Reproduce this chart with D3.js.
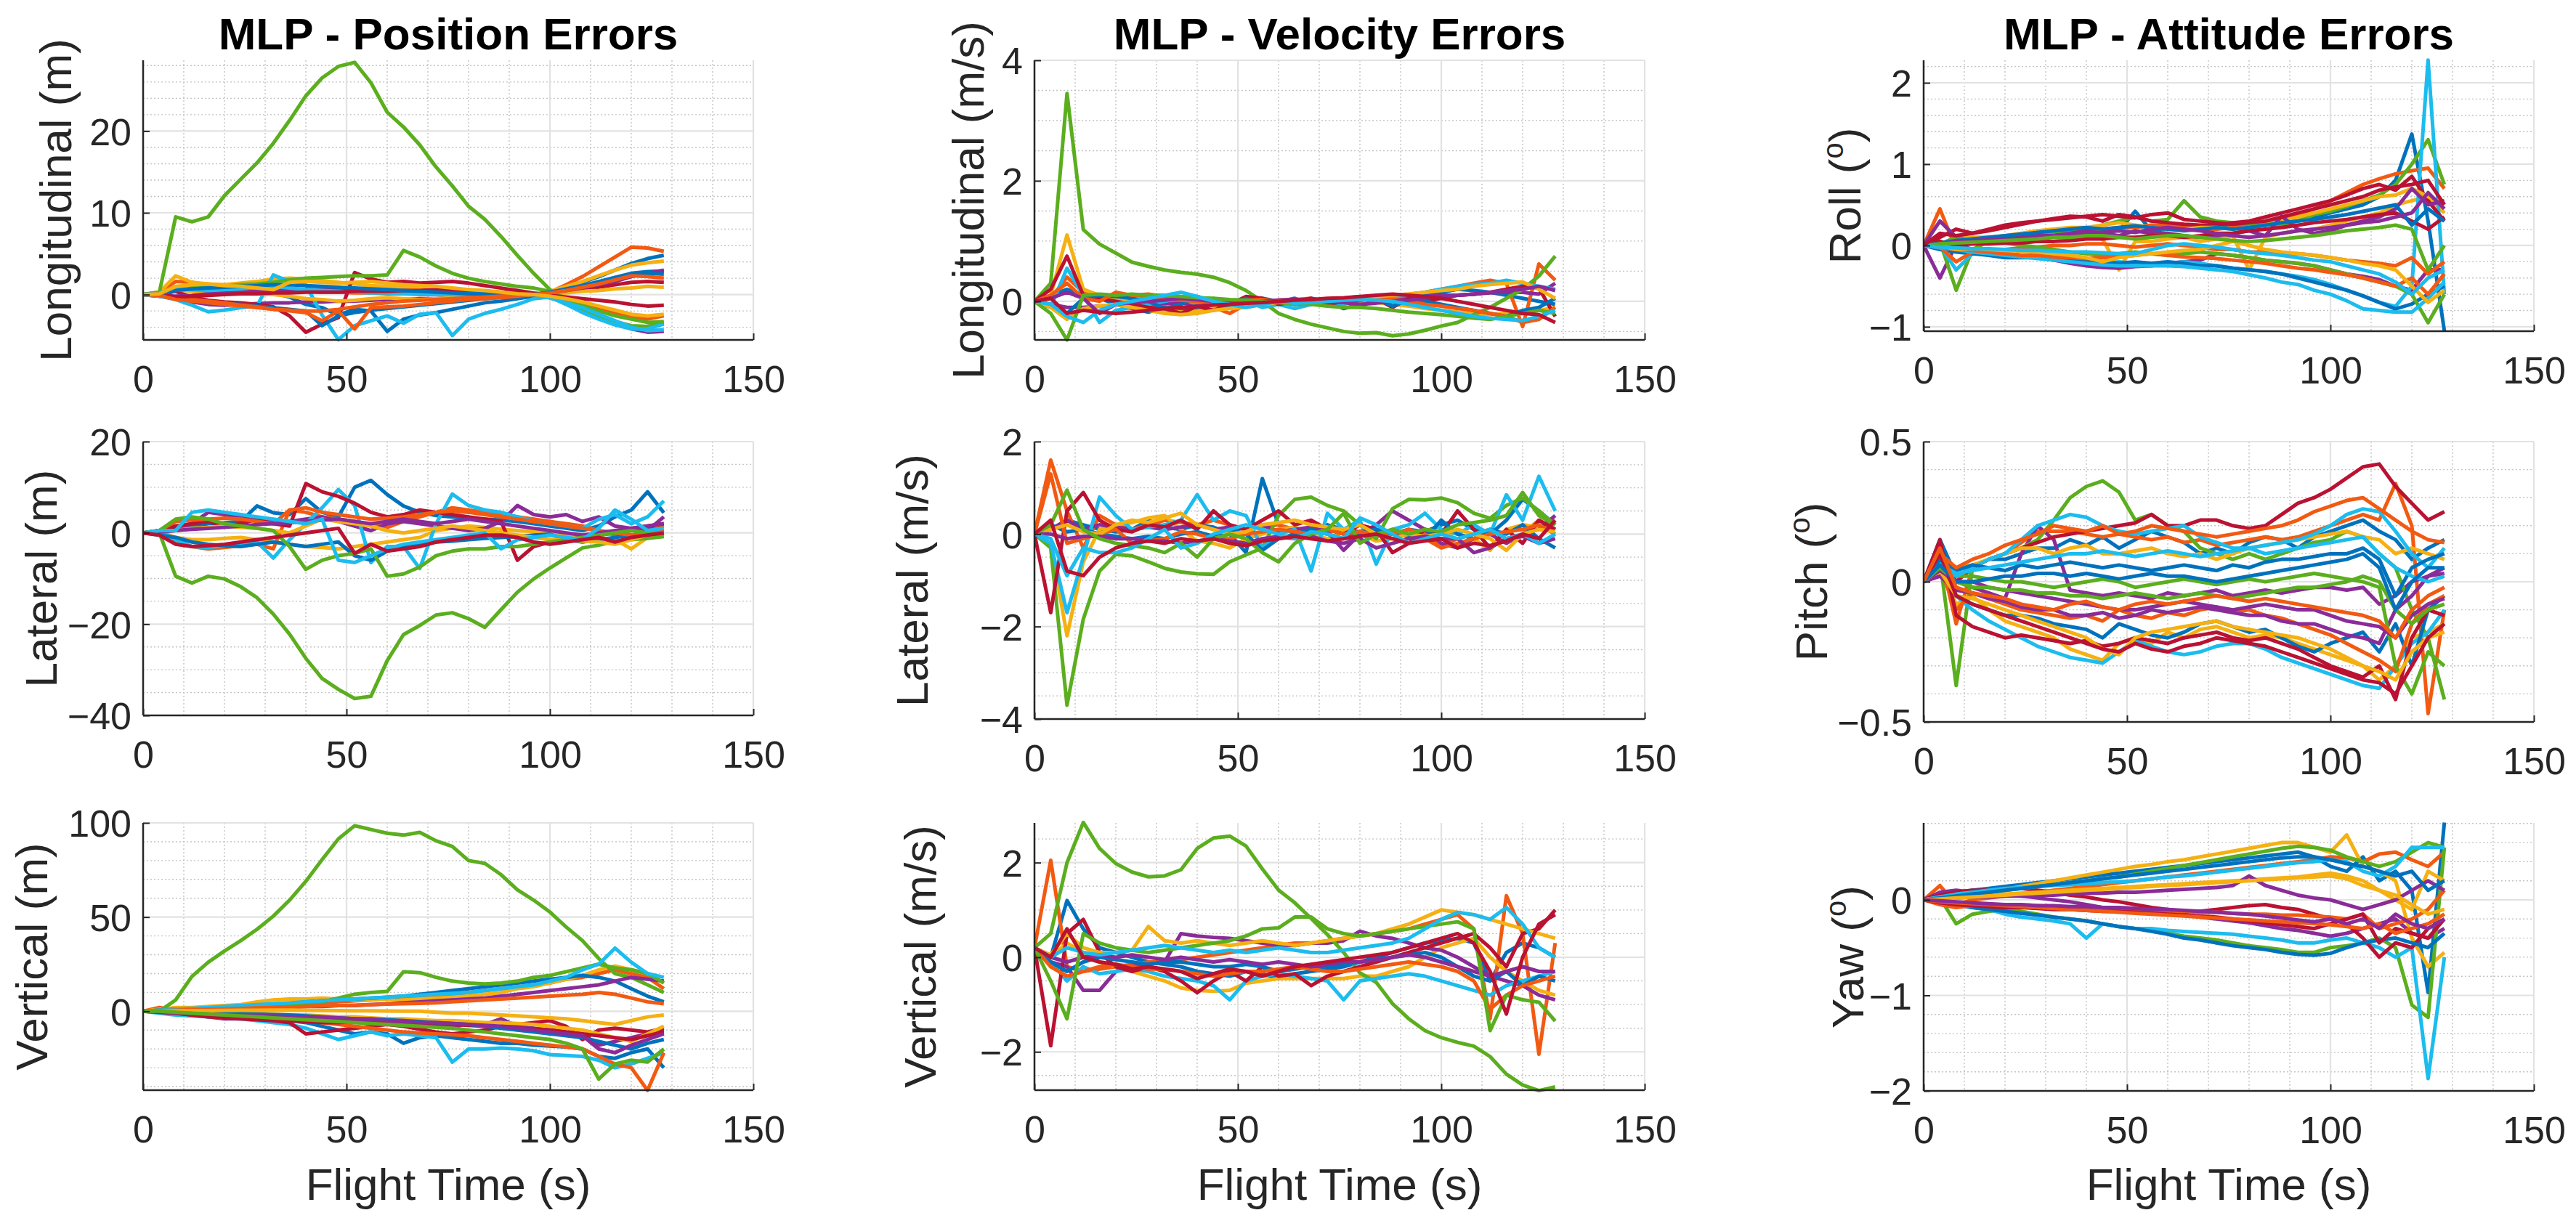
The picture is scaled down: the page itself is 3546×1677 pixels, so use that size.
<!DOCTYPE html>
<html>
  <head>
    <meta charset="utf-8" />
    <script src="https://d3js.org/d3.v7.min.js"></script>
  </head>
  <body>
    <svg id="viz" width="3546" height="1677"></svg>
  </body>
  <script>
    // sample times shared by every run (s)
    const flightTime = [0, 4, 8, 12, 16, 20, 24, 28, 32, 36, 40, 44, 48, 52, 56, 60,
      64, 68, 72, 76, 80, 84, 88, 92, 96, 100, 104, 108, 112, 116, 120, 124, 128];
    const timeTicks = [0, 50, 100, 150];

    // each series is one run; order follows the MATLAB colour order
    const posLongitudinal = [
      [0,-0.2,0.5,1.0,0.9,0.8,0.6,0.4, 0.2,-0.3,-1.2,-1.6,-2.5,-1.8,-2.0,-4.5, -3.0,-2.5,-2.2,-1.8,-1.4,-1.0,-0.8,-0.5, -0.2,0.1,0.8,1.5,2.2,3.0,3.8,4.4, 4.8],
      [0,0.3,1.6,1.5,1.2,1.0,0.8,0.7, 0.6,0.5,0.4,0.3,0.3,0.2,0.2,0.1, 0.1,0.0,0.0,-0.1,-0.1,0.0,0.0,0.0, 0.0,0.3,1.2,2.2,3.4,4.6,5.8,5.7, 5.3],
      [0,0.3,2.3,1.5,1.3,1.2,1.4,1.6, 1.9,2.0,1.9,1.7,1.5,1.3,1.1,1.0, 0.9,0.7,0.5,0.4,0.3,0.2,0.1,0.0, 0.0,0.4,1.0,1.6,2.3,3.0,3.6,3.9, 4.1],
      [0,-0.2,-0.5,-0.9,-1.2,-1.3,-1.2,-1.1, -1.0,-1.0,-0.9,-0.9,-0.8,-0.8,-0.7,-0.6, -0.6,-0.5,-0.5,-0.4,-0.3,-0.3,-0.2,-0.1, 0.0,-0.4,-1.0,-1.8,-2.6,-3.4,-4.2,-4.6, -4.5],
      [0,0.3,9.5,8.9,9.5,12.1,14.1,16.1, 18.5,21.3,24.3,26.5,27.9,28.4,25.9,22.3, 20.5,18.3,15.6,13.3,10.8,9.2,7.1,4.8, 2.6,0.6,-0.9,-2.0,-2.7,-3.3,-3.8,-3.9, -3.4],
      [0,-0.2,-0.6,-1.3,-2.1,-1.9,-1.6,-1.4, 2.4,1.6,1.2,-2.5,-5.5,-3.8,-3.2,-2.6, -3.5,-2.4,-2.2,-5.0,-3.0,-2.3,-1.8,-1.2, -0.5,-0.3,-1.2,-2.2,-3.0,-3.7,-4.2,-4.2, -3.6],
      [0,0.1,0.4,-0.3,-0.7,-0.9,-1.0,-1.2, -1.5,-2.6,-4.6,-3.6,-2.8,2.7,1.9,1.5, 1.6,1.4,1.5,1.6,1.4,1.1,0.8,0.5, 0.2,0.0,0.3,0.6,0.9,1.2,1.5,1.6, 1.5],
      [0,0.1,-0.4,-0.7,-1.0,-1.1,-1.2,-1.4, -1.6,-1.8,-2.0,-3.8,-2.6,-2.2,-1.9,-1.7, -1.5,-1.3,-1.1,-0.9,-0.7,-0.5,-0.3,-0.2, 0.0,0.3,0.7,1.1,1.6,2.1,2.6,2.8, 2.9],
      [0,0.1,-0.3,-0.6,-0.8,-1.0,-1.3,-1.5, -1.8,-2.0,-2.2,-3.2,-2.0,-4.2,-1.6,-1.5, -1.4,-1.2,-1.0,-0.8,-0.6,-0.5,-0.4,-0.2, 0.0,-0.2,-0.6,-1.1,-1.6,-2.2,-2.8,-3.0, -2.6],
      [0,0.0,0.6,0.4,0.3,0.2,0.2,0.1, 0.0,-0.2,-0.5,-0.6,-0.8,-0.7,-0.5,-0.4, -0.5,-0.6,-0.5,-0.4,-0.3,-0.2,-0.1,-0.1, 0.0,0.1,0.2,0.4,0.5,0.7,0.8,1.0, 0.9],
      [0,0.0,-0.2,-0.1,0.1,0.2,0.3,0.4, 0.4,0.5,0.6,0.6,0.7,0.6,0.5,0.4, 0.3,0.2,0.2,0.1,0.6,0.3,0.2,0.1, 0.0,0.2,0.5,0.8,1.2,1.6,2.2,2.6, 3.0],
      [0,0.2,0.6,0.8,0.9,1.0,1.2,1.3, 1.5,1.8,2.0,2.1,2.2,2.3,2.3,2.4, 5.4,4.6,3.5,2.6,2.0,1.6,1.3,1.0, 0.8,0.4,-0.5,-1.3,-2.0,-2.6,-3.0,-3.4, -3.3],
      [0,0.2,0.8,0.6,0.5,0.6,0.7,0.9, 1.0,0.8,0.6,0.5,0.4,0.3,0.2,0.2, 0.1,0.1,0.0,0.0,-0.1,-0.1,-0.1,-0.1, 0.0,-0.4,-1.0,-1.6,-2.4,-3.2,-4.0,-4.4, -4.3],
      [0,0.0,-0.3,-0.2,-0.1,0.0,0.1,0.1, 0.2,0.2,0.3,0.3,0.3,0.4,0.4,0.4, 0.5,0.5,0.6,0.6,0.5,0.4,0.3,0.2, 0.0,-0.1,-0.3,-0.5,-0.7,-0.9,-1.2,-1.4, -1.3],
      [0,0.1,0.5,0.7,0.8,0.9,1.0,1.1, 1.2,1.2,1.1,1.0,0.9,0.8,0.7,0.6, 0.5,0.4,0.3,0.2,0.1,0.1,0.0,0.0, 0.0,0.3,0.6,1.0,1.5,2.0,2.4,2.6, 2.5],
      [0,-0.1,-0.6,-0.8,-1.0,-1.2,-1.4,-1.6, -1.8,-1.9,-2.0,-2.0,-1.8,-1.5,-1.2,-1.0, -0.8,-0.7,-0.6,-0.5,-0.4,-0.3,-0.2,-0.1, 0.0,0.2,0.5,0.9,1.3,1.8,2.3,2.2, 2.0],
      [0,0.1,1.0,1.2,1.3,1.1,1.0,0.8, 0.6,1.5,1.6,1.5,1.4,1.5,1.6,1.4, 1.2,1.1,1.0,0.8,0.6,0.5,0.3,0.1, 0.0,-0.2,-0.5,-0.9,-1.4,-1.9,-2.4,-2.6, -2.4]
    ];

    const velLongitudinal = [
      [0,0.1,0.2,0.1,0.05,-0.05,-0.12,-0.18, -0.1,-0.15,-0.1,-0.12,-0.05,0.0,0.05,0.0, -0.05,0.05,0.0,-0.12,-0.05,0.02,0.05,0.08, 0.1,0.15,0.2,0.18,0.15,0.1,0.05,0.0, -0.05],
      [0,0.05,0.4,0.15,0.1,0.05,0.1,0.12, 0.08,0.05,0.0,-0.1,-0.2,-0.05,0.0,0.02, 0.03,0.05,-0.05,0.05,0.0,0.08,0.1,0.12, 0.15,0.2,0.25,0.3,0.35,0.3,-0.42,0.62, 0.35],
      [0,0.1,1.1,0.2,0.1,0.05,0.0,-0.1, -0.15,-0.18,-0.16,-0.12,-0.08,-0.05,0.0,0.02, 0.03,0.02,0.01,0.0,0.0,-0.02,-0.05,-0.08, -0.12,-0.15,-0.18,-0.2,-0.22,-0.2,-0.18,-0.15, -0.1],
      [0,-0.05,-0.1,-0.1,-0.08,-0.06,-0.05,-0.05, -0.04,-0.03,-0.03,-0.02,-0.02,-0.01,-0.01,0.0, 0.0,0.01,0.02,0.03,0.04,0.05,0.06,0.07, 0.08,0.1,0.1,0.12,0.14,0.15,0.15,0.12, 0.3],
      [0,0.3,3.45,1.19,0.95,0.8,0.65,0.58, 0.52,0.48,0.45,0.4,0.31,0.18,0.0,-0.2, -0.3,-0.38,-0.44,-0.5,-0.53,-0.52,-0.57,-0.54, -0.48,-0.41,-0.35,-0.22,-0.1,0.05,0.2,0.42, 0.75],
      [0,-0.1,0.55,0.1,-0.35,-0.15,-0.1,-0.05, 0.0,0.05,-0.05,0.05,-0.1,0.0,-0.1,-0.05, -0.12,-0.05,0.0,-0.05,0.02,0.05,0.08,0.1, 0.15,0.2,0.25,0.28,0.3,0.35,0.3,0.25, 0.2],
      [0,0.2,0.75,0.1,0.05,0.0,-0.05,-0.1, -0.12,-0.2,-0.08,-0.15,-0.05,0.08,0.05,-0.05, 0.0,0.05,-0.05,0.0,0.02,0.05,-0.1,0.05, 0.0,0.05,0.1,0.12,0.15,0.2,0.25,0.22, -0.25],
      [0,-0.1,-0.2,0.05,0.1,0.08,0.05,0.0, -0.12,-0.05,0.08,0.0,-0.08,0.05,-0.05,0.0, 0.05,-0.05,0.02,0.0,-0.1,0.05,-0.08,0.02, 0.0,-0.05,-0.1,-0.15,-0.2,-0.25,-0.15,-0.1, 0.05],
      [0,0.1,0.3,0.05,0.0,0.15,0.1,0.08, 0.05,0.02,0.0,-0.02,0.0,0.02,0.03,0.0, -0.02,0.0,0.02,0.05,0.08,0.05,0.03,0.0, -0.05,-0.08,-0.12,-0.15,-0.2,-0.25,-0.35,-0.3, -0.1],
      [0,-0.1,-0.3,-0.12,-0.08,-0.05,-0.1,-0.15, -0.2,-0.22,-0.2,-0.15,-0.12,-0.1,-0.05,-0.02, 0.0,0.02,0.03,0.05,0.05,0.08,0.1,0.12, 0.15,0.18,0.2,0.25,0.28,0.3,0.32,0.2, 0.05],
      [0,0.05,0.15,0.05,-0.2,-0.05,-0.02,0.0, 0.02,0.05,0.03,0.0,-0.02,-0.03,0.0,0.02, 0.03,0.02,0.0,-0.02,-0.05,-0.03,0.0,0.02, 0.05,0.08,0.1,0.12,0.15,0.18,0.2,0.25, 0.18],
      [0,-0.2,-0.64,0.1,0.12,0.1,0.12,0.1, 0.1,0.08,0.06,0.05,0.03,0.02,0.0,-0.02, -0.05,-0.05,-0.08,-0.1,-0.1,-0.12,-0.15,-0.18, -0.2,-0.22,-0.25,-0.28,-0.3,-0.25,-0.2,-0.15, -0.2],
      [0,-0.05,-0.25,-0.35,-0.15,-0.05,0.0,0.05, 0.1,0.15,0.08,0.0,-0.05,-0.1,-0.05,0.0, -0.03,-0.02,0.0,0.02,0.03,0.02,0.0,-0.05, -0.1,-0.15,-0.2,-0.25,-0.28,-0.3,-0.32,-0.25, -0.15],
      [0,0.05,-0.2,-0.15,-0.18,-0.2,-0.18,-0.15, -0.12,-0.1,-0.08,-0.06,-0.05,-0.03,-0.02,0.0, 0.02,0.03,0.05,0.06,0.08,0.1,0.12,0.1, 0.08,0.05,0.0,-0.05,-0.1,-0.15,-0.2,-0.22, -0.35]
    ];

    const attRoll = [
      [0,0.02,0.05,0.08,0.1,0.1,0.12,0.15, 0.15,0.12,0.18,0.2,0.18,0.42,0.18,0.2, 0.22,0.22,0.2,0.25,0.22,0.25,0.28,0.3, 0.35,0.4,0.45,0.5,0.6,0.8,1.37,0.3, -1.05],
      [0,0.45,-0.05,0.05,0.05,0.08,0.1,0.12, 0.15,0.15,0.18,0.2,0.22,0.22,0.25,0.25, 0.22,0.2,0.2,0.22,0.25,0.28,0.32,0.38, 0.45,0.55,0.65,0.75,0.82,0.88,0.92,0.95, 0.7],
      [0,0.02,0.05,0.05,0.08,0.1,0.12,0.12, 0.1,0.08,0.1,0.08,-0.3,0.05,0.05,0.08, 0.1,0.05,0.08,0.12,-0.3,0.1,0.15,0.18, 0.2,0.25,0.3,0.35,0.4,0.5,0.55,0.6, 0.4],
      [0,-0.4,0.02,-0.05,-0.08,-0.1,-0.12,-0.15, -0.18,-0.22,-0.25,-0.27,-0.28,-0.26,-0.25,-0.22, -0.2,-0.18,-0.1,-0.12,-0.15,-0.18,-0.2,-0.22, -0.25,-0.3,-0.35,-0.38,-0.42,-0.5,-0.55,-0.3, -0.3],
      [0,0.05,-0.55,-0.05,0.05,0.08,0.1,0.12, 0.15,0.18,0.2,0.25,0.3,0.35,0.3,0.32, 0.55,0.35,0.3,0.28,0.27,0.26,0.25,0.3, 0.38,0.42,0.48,0.55,0.62,0.75,1.0,1.3, 0.75],
      [0,0.0,-0.3,-0.1,-0.08,-0.1,-0.12,-0.15, -0.15,-0.18,-0.2,-0.22,-0.2,-0.22,-0.25,-0.22, -0.2,-0.22,-0.25,-0.28,-0.3,-0.32,-0.35,-0.38, -0.42,-0.48,-0.55,-0.62,-0.7,-0.75,-0.5,2.28, -0.6],
      [0,0.1,0.2,0.15,0.18,0.22,0.26,0.3, 0.33,0.36,0.35,0.3,0.38,0.35,0.3,0.28, 0.26,0.25,0.25,0.28,0.3,0.35,0.4,0.45, 0.5,0.55,0.62,0.7,0.75,0.68,0.85,0.55, 0.3],
      [0,-0.05,-0.08,-0.1,-0.12,-0.15,-0.15,-0.15, -0.18,-0.18,-0.2,-0.2,-0.22,-0.2,-0.22,-0.2, -0.22,-0.25,-0.25,-0.28,-0.3,-0.32,-0.35,-0.4, -0.45,-0.5,-0.55,-0.62,-0.7,-0.78,-0.72,-0.6, -0.5],
      [0,-0.02,-0.2,-0.08,-0.05,-0.05,-0.03,-0.02, 0.0,0.0,0.02,0.02,0.0,-0.02,0.0,0.02, 0.0,-0.02,-0.05,-0.05,-0.08,-0.08,-0.1,-0.1, -0.12,-0.15,-0.18,-0.2,-0.22,-0.25,-0.15,-0.35, -0.2],
      [0,0.02,0.08,0.1,0.1,0.12,0.15,0.18, 0.2,0.22,0.22,0.25,0.28,0.25,0.22,0.2, 0.2,0.22,0.22,0.2,0.22,0.25,0.3,0.35, 0.4,0.45,0.5,0.55,0.6,0.62,0.7,0.6, 0.5],
      [0,0.3,0.1,0.05,0.05,0.08,0.1,0.12, 0.12,0.15,0.18,0.15,0.12,0.18,0.15,0.15, 0.12,0.1,0.12,0.15,0.18,0.12,0.36,0.2, 0.15,0.18,0.25,0.3,0.35,0.45,0.7,0.5, 0.55],
      [0,0.02,0.1,0.05,0.05,0.03,0.0,-0.02, -0.05,-0.08,-0.1,-0.12,-0.1,-0.08,-0.1,-0.12, -0.1,-0.08,-0.1,-0.12,-0.15,-0.18,-0.2,-0.22, -0.25,-0.3,-0.35,-0.4,-0.45,-0.5,-0.6,-0.95, -0.6],
      [0,-0.03,-0.05,-0.08,-0.1,-0.12,-0.14,-0.16, -0.18,-0.2,-0.22,-0.24,-0.25,-0.25,-0.25,-0.25, -0.26,-0.28,-0.3,-0.32,-0.36,-0.4,-0.45,-0.48, -0.55,-0.6,-0.68,-0.78,-0.8,-0.82,-0.82,-0.65, -0.45],
      [0,0.05,0.0,0.02,0.02,0.03,0.03,0.05, 0.05,0.06,0.08,0.08,0.1,0.1,0.12,0.12, 0.1,0.12,0.15,0.15,0.18,0.2,0.22,0.25, 0.28,0.3,0.32,0.35,0.38,0.4,0.3,0.2, 0.35],
      [0,0.03,0.06,0.08,0.1,0.12,0.14,0.16, 0.18,0.2,0.22,0.2,0.22,0.24,0.22,0.2, 0.18,0.2,0.22,0.2,0.22,0.25,0.28,0.3, 0.32,0.35,0.38,0.42,0.46,0.5,0.25,0.45, 0.3],
      [0,-0.02,-0.05,-0.06,-0.08,-0.1,-0.12,-0.12, -0.14,-0.15,-0.16,-0.15,-0.14,-0.12,-0.1,-0.12, -0.14,-0.15,-0.16,-0.18,-0.2,-0.22,-0.25,-0.28, -0.3,-0.33,-0.36,-0.4,-0.45,-0.5,-0.4,-0.6, -0.35],
      [0,0.0,-0.05,-0.04,-0.05,-0.06,-0.07,-0.08, -0.1,-0.12,-0.15,-0.2,-0.15,-0.12,-0.1,-0.08, -0.06,-0.05,0.0,0.05,0.0,-0.05,-0.08,-0.1, -0.12,-0.15,-0.18,-0.22,-0.25,-0.3,-0.5,-0.7, -0.55],
      [0,0.02,0.05,0.06,0.07,0.08,0.09,0.1, 0.12,0.14,0.15,0.16,0.18,0.16,0.2,0.22, 0.2,0.18,0.15,0.12,0.1,0.12,0.15,0.18, 0.2,0.22,0.25,0.28,0.3,0.35,0.4,0.65, 0.45],
      [0,0.02,0.03,0.04,0.05,0.06,0.07,0.08, 0.1,0.1,0.12,0.12,0.1,0.08,0.1,0.12, 0.12,0.1,0.08,0.06,0.05,0.06,0.08,0.1, 0.12,0.15,0.18,0.2,0.22,0.25,0.2,-0.3, 0.0],
      [0,-0.02,-0.03,-0.04,-0.04,-0.05,-0.06,-0.06, -0.07,-0.08,-0.08,-0.09,-0.1,-0.1,-0.05,0.0, 0.02,0.0,-0.02,-0.05,-0.08,-0.1,-0.12,-0.15, -0.18,-0.2,-0.25,-0.3,-0.35,-0.45,-0.6,-0.4, -0.3],
      [0,0.15,0.12,0.15,0.2,0.25,0.28,0.3, 0.32,0.34,0.36,0.38,0.36,0.34,0.38,0.4, 0.32,0.3,0.28,0.26,0.28,0.3,0.35,0.4, 0.45,0.5,0.55,0.6,0.68,0.72,0.75,0.8, 0.5]
    ];

    const posLateral = [
      [0,0.5,0.8,1.5,2.0,2.2,2.5,5.9, 4.4,4.0,7.5,4.5,3.5,10.0,11.5,8.4, 5.9,4.5,3.8,3.5,3.2,3.0,2.8,2.5, 2.0,1.5,1.0,0.5,1.5,3.5,5.0,9.0, 4.4],
      [0,0.5,-2.0,-3.0,-3.5,-3.2,-2.8,-2.5, -3.5,5.0,4.5,3.5,3.0,2.5,1.8,1.2, 2.5,3.5,4.5,5.5,5.0,4.5,4.0,3.5, 3.0,2.5,2.0,1.5,0.5,-0.5,0.5,1.0, 1.5],
      [0,0.2,-1.0,-1.5,-1.5,-1.2,-1.0,-1.5, -2.0,-2.5,-3.0,-3.2,-3.5,-3.0,-2.5,-2.0, -1.5,-1.0,0.5,1.0,1.5,1.2,0.8,0.5, 0.3,0.0,-0.5,-0.8,-1.0,-1.5,-3.5,-1.0, 0.0],
      [0,0.2,0.5,2.0,4.5,4.0,3.5,3.0, 2.5,2.5,3.0,3.5,2.5,1.5,0.5,2.0, 2.5,2.0,1.5,1.0,0.5,1.0,2.5,6.0, 4.0,3.5,4.0,2.5,3.5,1.5,1.0,0.5, 3.5],
      [0,0.0,-9.5,-11.0,-9.5,-10.1,-11.8,-14.2, -17.8,-22.2,-27.5,-31.9,-34.3,-36.3,-35.8,-28.0, -22.3,-20.3,-18.0,-17.5,-18.8,-20.7,-16.8,-13.0, -10.1,-7.7,-5.5,-3.3,-2.7,-1.8,-1.5,-1.2, -0.8],
      [0,0.5,-1.5,-3.0,-3.2,-2.8,-2.5,-2.0, -5.5,-1.5,2.0,5.5,9.5,6.0,-6.5,-3.0, -3.0,-7.8,2.0,8.5,6.0,5.0,4.5,3.5, 2.5,2.0,1.5,1.0,3.0,4.0,2.0,3.5, 7.0],
      [0,0.5,1.5,2.0,2.5,1.5,2.0,3.0, 2.0,1.5,10.8,9.0,8.0,6.5,4.5,3.5, 4.0,5.0,4.5,4.0,3.5,3.0,2.5,-6.0, -3.0,-2.0,-1.5,-1.0,-0.5,0.0,1.0,1.5, 2.0],
      [0,-0.5,-1.0,-2.0,-2.5,-2.8,-3.0,-2.5, -2.0,-2.5,-3.0,-2.5,-2.0,-5.0,-6.0,-4.0, -3.0,-2.5,-2.0,-1.8,-1.5,-1.2,-1.0,-0.8, -0.5,-0.3,-1.5,-2.0,-1.5,-1.0,-0.5,0.0, 0.5],
      [0,0.5,2.5,2.8,3.0,3.2,3.0,2.5, 2.0,5.0,5.5,4.5,4.0,3.5,3.0,3.2, 3.5,4.0,4.5,4.8,4.5,4.0,3.5,3.0, 2.5,2.0,1.5,1.0,0.5,0.0,-0.5,0.0, 0.5],
      [0,0.3,0.5,1.0,1.2,1.5,1.2,1.0, 0.5,0.0,1.5,3.0,2.5,2.0,1.5,0.5, 0.0,0.5,1.0,1.5,1.0,0.5,0.0,-0.5, -1.0,-1.5,-1.5,-1.8,-2.0,-2.5,-1.5,-0.5, 0.0],
      [0,0.2,0.5,0.8,1.0,1.2,1.5,1.8, 2.0,2.2,2.5,2.8,3.0,2.5,2.0,2.5, 3.0,2.5,2.0,2.5,3.0,2.5,2.0,1.5, 1.0,0.5,0.0,-0.5,0.0,0.5,1.0,1.5, 2.0],
      [0,0.5,3.0,3.5,3.0,2.0,1.5,1.0, 0.5,-3.0,-8.0,-6.0,-5.0,-4.5,-3.5,-9.5, -9.0,-7.5,-5.0,-4.0,-3.5,-3.5,-3.0,-3.0, -2.5,-2.0,-1.5,-1.0,-0.5,0.0,0.5,0.0, -0.5],
      [0,0.5,0.5,4.5,5.0,4.5,4.0,3.5, 3.0,2.5,2.0,3.0,-6.0,-6.5,-5.0,-3.5, -2.5,-2.0,-1.5,-1.0,-0.5,0.0,-3.5,-1.5, -1.0,-0.5,-1.0,-1.5,1.0,5.0,3.0,0.5, 1.0],
      [0,-0.5,-2.5,-3.0,-2.8,-2.5,-2.0,-1.5, -1.0,-0.5,0.0,0.5,1.0,-4.5,-2.5,-4.0, -3.5,-3.0,-2.0,-1.5,-1.0,-0.5,-0.5,-1.0, -2.0,-2.5,-2.0,-1.5,-1.0,-2.0,-1.0,-0.5, 0.0]
    ];

    const velLateral = [
      [0,0.1,0.3,0.2,0.1,0.05,0.1,0.3, 0.15,0.1,0.2,0.15,0.0,-0.4,1.2,0.2, 0.0,-0.1,0.2,0.1,0.05,0.1,0.0,0.1, 0.05,0.2,0.3,0.1,0.0,0.3,0.75,0.5, 0.2],
      [0,1.6,0.5,-0.3,0.4,0.2,0.1,0.2, 0.3,0.25,0.2,0.3,0.2,0.1,0.15,0.2, 0.1,0.0,0.05,0.1,0.0,-0.05,0.0,0.1, 0.0,-0.25,-0.1,0.0,0.1,-0.1,0.0,0.3, 0.1],
      [0,-0.2,-2.2,-0.6,0.1,0.2,0.25,0.35, 0.4,0.1,-0.15,-0.2,-0.3,-0.1,0.0,0.1, 0.15,0.0,-0.1,0.05,0.0,-0.15,-0.1,0.0, 0.1,0.05,0.0,-0.1,-0.35,0.1,0.2,0.15, 0.1],
      [0,0.1,0.3,0.1,0.2,0.15,0.1,0.15, 0.1,0.15,0.2,0.1,0.15,0.1,0.2,0.05, 0.1,0.15,0.05,-0.35,0.0,0.2,0.5,0.3, 0.1,-0.2,-0.3,-0.1,0.0,-0.2,0.0,0.1, 0.4],
      [0,-0.3,-3.7,-1.84,-0.8,-0.44,-0.47,-0.6, -0.74,-0.82,-0.86,-0.87,-0.6,-0.45,-0.3,0.4, 0.75,0.8,0.62,0.5,0.2,-0.1,0.55,0.75, 0.74,0.78,0.68,0.45,0.34,0.62,0.78,0.5, 0.2],
      [0,-0.2,-1.7,-0.5,0.8,0.4,0.1,0.15, 0.2,0.3,0.85,0.3,0.5,0.4,-0.3,0.0, 0.1,-0.8,0.45,0.1,0.3,-0.65,0.1,0.2, 0.45,0.1,0.0,0.2,0.0,0.85,0.3,1.25, 0.5],
      [0,-1.7,0.5,0.9,0.3,0.1,0.05,0.2, 0.15,0.3,0.1,0.5,0.2,0.1,0.3,0.5, 0.2,0.3,0.1,0.0,0.2,0.1,-0.4,-0.2, 0.1,0.0,0.5,0.1,-0.3,0.1,-0.2,0.3, 0.1],
      [0,0.2,0.05,0.1,0.0,-0.05,-0.1,-0.05, -0.1,0.0,0.05,-0.05,0.1,0.0,-0.35,-0.1, 0.0,0.1,0.0,-0.1,0.05,0.1,0.0,-0.05, -0.1,0.3,0.0,-0.1,0.1,0.0,0.2,-0.1, -0.3],
      [0,1.3,-0.2,-0.1,0.0,0.1,-0.2,-0.15, -0.1,0.05,0.0,-0.1,-0.1,0.0,0.05,0.1, 0.05,0.0,0.1,0.0,0.05,0.0,0.05,0.0, -0.1,-0.3,-0.2,-0.1,0.0,0.05,0.1,0.2, 0.0],
      [0,0.1,0.2,0.05,0.0,0.2,0.3,0.25, 0.35,0.45,0.2,0.1,0.0,0.05,0.2,0.25, 0.3,0.2,0.15,0.1,0.2,0.0,-0.1,0.0, -0.05,0.0,0.1,0.0,-0.1,-0.35,0.0,0.1, 0.05],
      [0,0.0,-0.1,-0.05,-0.05,-0.1,-0.1,-0.15, -0.15,-0.2,-0.15,-0.1,-0.15,-0.2,-0.1,-0.05, -0.1,-0.05,-0.15,-0.2,-0.1,-0.3,-0.2,-0.1, -0.05,-0.1,-0.1,-0.4,-0.3,-0.1,-0.05,-0.2, -0.1],
      [0,0.2,0.95,0.1,-0.1,-0.2,-0.25,-0.3, -0.4,-0.2,-0.5,-0.1,0.0,-0.1,-0.4,-0.6, -0.2,0.0,0.1,0.45,-0.2,0.0,0.1,0.0, 0.1,0.05,0.2,0.25,0.3,0.4,0.9,0.4, 0.2],
      [0,-0.1,-0.9,-0.3,-0.4,-0.4,-0.3,-0.1, 0.1,-0.3,-0.2,0.0,0.1,0.2,0.1,0.0, -0.1,0.05,0.0,-0.1,0.35,0.2,0.0,-0.2, -0.1,0.0,-0.1,0.0,0.1,-0.1,0.0,-0.2, 0.0],
      [0,0.3,-0.8,-0.9,-0.5,-0.3,-0.2,-0.15, -0.2,-0.1,-0.15,-0.1,-0.2,-0.25,-0.15,-0.1, -0.05,-0.1,-0.15,-0.1,-0.05,0.0,-0.1,-0.2, -0.15,-0.1,-0.3,-0.2,-0.25,-0.15,0.0,-0.1, 0.3]
    ];

    const attPitch = [
      [0,0.15,0.02,0.05,0.08,0.08,0.1,0.12, 0.12,0.15,0.13,0.16,0.12,0.15,0.18,0.16, 0.14,0.1,0.12,0.1,0.14,0.16,0.15,0.12, 0.16,0.18,0.2,0.22,0.18,0.15,0.08,0.12, 0.15],
      [0,0.1,-0.15,0.05,0.08,0.1,0.14,0.18, 0.18,0.18,0.17,0.16,0.17,0.16,0.15,0.16, 0.14,0.15,0.13,0.14,0.15,0.16,0.15,0.16, 0.18,0.2,0.22,0.24,0.22,0.35,0.2,-0.47, -0.1],
      [0,0.05,-0.08,-0.05,-0.1,-0.14,-0.16,-0.18, -0.2,-0.24,-0.26,-0.28,-0.22,-0.2,-0.22,-0.18, -0.2,-0.17,-0.16,-0.18,-0.2,-0.19,-0.2,-0.22, -0.24,-0.26,-0.28,-0.3,-0.35,-0.3,-0.2,-0.18, -0.15],
      [0,0.05,0.0,-0.02,-0.04,-0.06,0.1,0.2, 0.15,-0.03,-0.04,-0.05,-0.04,-0.05,-0.06,-0.04, -0.05,-0.04,-0.03,-0.05,-0.04,-0.03,-0.04,-0.03, -0.02,-0.02,-0.03,-0.02,-0.08,-0.05,0.0,0.02, 0.03],
      [0,0.08,-0.37,0.05,0.08,0.1,0.12,0.15, 0.22,0.3,0.34,0.36,0.32,0.22,0.24,0.2, 0.18,0.12,0.1,0.08,0.1,0.08,0.1,0.12, 0.14,0.15,0.18,0.16,0.1,0.05,-0.1,-0.2, -0.42],
      [0,0.08,-0.05,-0.1,-0.14,-0.17,-0.2,-0.23, -0.25,-0.27,-0.28,-0.29,-0.25,-0.21,-0.23,-0.25, -0.26,-0.25,-0.23,-0.22,-0.22,-0.24,-0.27,-0.29, -0.31,-0.33,-0.35,-0.37,-0.38,-0.3,-0.22,-0.18, -0.1],
      [0,0.12,0.0,0.05,0.08,0.1,0.12,0.14, 0.16,0.17,0.18,0.19,0.2,0.21,0.24,0.2, 0.2,0.22,0.22,0.2,0.19,0.2,0.24,0.28, 0.3,0.33,0.37,0.41,0.42,0.34,0.28,0.22, 0.25],
      [0,0.1,-0.05,-0.08,-0.1,-0.12,-0.12,-0.13, -0.15,-0.16,-0.17,-0.2,-0.15,-0.17,-0.19,-0.2, -0.18,-0.15,-0.14,-0.16,-0.18,-0.17,-0.2,-0.23, -0.25,-0.22,-0.2,-0.18,-0.25,-0.15,-0.3,-0.1, -0.05],
      [0,0.05,-0.1,-0.04,-0.06,-0.08,-0.1,-0.11, -0.12,-0.13,-0.12,-0.14,-0.1,-0.12,-0.13,-0.11, -0.12,-0.1,-0.09,-0.11,-0.1,-0.12,-0.13,-0.15, -0.17,-0.19,-0.22,-0.25,-0.28,-0.32,-0.15,-0.08, -0.05],
      [0,0.03,0.05,0.06,0.08,0.1,0.12,0.12, 0.1,0.12,0.13,0.1,0.1,0.11,0.12,0.1, 0.09,0.1,0.08,0.1,0.12,0.13,0.14,0.15, 0.16,0.17,0.18,0.16,0.15,0.1,0.12,0.1, 0.08],
      [0,0.02,-0.03,-0.04,-0.06,-0.07,-0.09,-0.1, -0.1,-0.12,-0.12,-0.11,-0.13,-0.12,-0.1,-0.11, -0.1,-0.09,-0.1,-0.11,-0.12,-0.12,-0.14,-0.15, -0.15,-0.17,-0.19,-0.2,-0.22,-0.1,-0.05,0.02, 0.05],
      [0,0.06,0.02,0.02,0.01,0.0,0.0,-0.01, -0.02,-0.01,0.0,0.01,0.0,-0.02,-0.01,0.0, 0.01,0.0,-0.01,0.0,0.01,0.0,0.01,0.02, 0.03,0.02,0.01,0.0,-0.02,-0.3,-0.4,-0.25, -0.3],
      [0,0.05,0.02,0.05,0.08,0.1,0.15,0.2, 0.22,0.24,0.23,0.2,0.18,0.17,0.18,0.19, 0.2,0.16,0.14,0.12,0.12,0.13,0.14,0.15, 0.17,0.2,0.24,0.26,0.25,0.18,0.1,0.05, 0.12],
      [0,0.15,-0.12,-0.16,-0.18,-0.2,-0.19,-0.2, -0.21,-0.22,-0.21,-0.23,-0.22,-0.2,-0.21,-0.22, -0.2,-0.19,-0.18,-0.2,-0.21,-0.2,-0.22,-0.24, -0.27,-0.3,-0.32,-0.34,-0.3,-0.42,-0.2,-0.1, -0.12],
      [0,0.08,0.04,0.06,0.05,0.04,0.06,0.05, 0.06,0.07,0.06,0.05,0.06,0.05,0.04,0.05, 0.06,0.05,0.04,0.06,0.05,0.07,0.08,0.08, 0.09,0.1,0.1,0.12,0.08,-0.05,0.05,0.08, 0.1],
      [0,0.1,0.05,0.08,0.1,0.13,0.15,0.17, 0.2,0.19,0.18,0.2,0.17,0.18,0.2,0.19, 0.18,0.17,0.16,0.17,0.18,0.19,0.2,0.22, 0.25,0.27,0.29,0.3,0.26,0.22,0.18,0.15, 0.14],
      [0,0.04,-0.05,-0.06,-0.08,-0.1,-0.12,-0.14, -0.16,-0.18,-0.2,-0.24,-0.26,-0.2,-0.18,-0.17, -0.16,-0.15,-0.14,-0.16,-0.17,-0.18,-0.19,-0.2, -0.22,-0.24,-0.27,-0.3,-0.32,-0.35,-0.25,-0.2, -0.18],
      [0,0.04,0.0,0.0,-0.02,-0.03,-0.04,-0.05, -0.06,-0.07,-0.08,-0.09,-0.1,-0.1,-0.09,-0.08, -0.07,-0.08,-0.09,-0.1,-0.09,-0.08,-0.09,-0.1, -0.1,-0.12,-0.14,-0.15,-0.16,-0.2,-0.12,-0.08, -0.06],
      [0,0.05,0.0,-0.02,-0.02,-0.03,-0.03,-0.04, -0.04,-0.05,-0.05,-0.06,-0.05,-0.04,-0.05,-0.06, -0.05,-0.04,-0.05,-0.06,-0.05,-0.04,-0.03,-0.02, -0.02,-0.01,0.0,0.02,0.0,-0.1,-0.15,-0.1, -0.08],
      [0,0.06,0.03,0.04,0.05,0.06,0.07,0.08, 0.09,0.1,0.1,0.11,0.1,0.09,0.1,0.11, 0.1,0.09,0.1,0.11,0.12,0.1,0.11,0.12, 0.13,0.14,0.15,0.16,0.1,0.05,0.02,0.0, 0.02],
      [0,0.1,-0.05,-0.08,-0.1,-0.12,-0.14,-0.16, -0.18,-0.2,-0.22,-0.24,-0.25,-0.22,-0.24,-0.25, -0.23,-0.22,-0.2,-0.21,-0.22,-0.23,-0.25,-0.27, -0.29,-0.31,-0.33,-0.35,-0.36,-0.4,-0.3,-0.2, -0.15],
      [0,0.06,0.0,0.0,0.01,0.02,0.02,0.03, 0.03,0.02,0.03,0.02,0.01,0.02,0.03,0.02, 0.02,0.01,0.0,0.01,0.02,0.03,0.04,0.05, 0.06,0.07,0.08,0.1,0.05,-0.1,0.0,0.05, 0.05],
      [0,0.12,-0.02,-0.04,-0.05,-0.06,-0.08,-0.09, -0.1,-0.08,-0.07,-0.09,-0.1,-0.08,-0.07,-0.08, -0.07,-0.06,-0.05,-0.06,-0.07,-0.06,-0.07,-0.08, -0.09,-0.1,-0.11,-0.12,-0.14,-0.2,-0.1,-0.05, -0.02]
    ];

    const posVertical = [
      [0,0.0,-1.0,-1.5,-2.0,-2.5,-3.0,-3.5, -4.0,-5.0,-6.0,-8.0,-10.0,-12.0,-11.0,-12.0, -17.0,-14.0,-13.0,-14.0,-15.0,-16.0,-17.0,-17.0, -18.0,-18.5,-19.0,-20.0,-24.0,-25.0,-22.0,-20.0, -30.0],
      [0,2.0,0.5,0.5,1.0,1.5,2.0,2.5, 3.0,3.5,4.0,4.5,5.0,5.5,6.0,7.0, 7.5,8.0,8.5,9.0,10.0,11.0,12.0,13.0, 14.0,15.0,17.0,18.0,20.0,22.0,20.0,18.0, 12.0],
      [0,1.0,2.0,2.0,2.5,3.0,3.5,5.0, 6.0,6.5,6.5,7.0,6.5,6.0,6.0,6.5, 6.0,6.5,7.0,7.5,8.0,9.0,10.0,12.0, 13.0,15.0,17.0,19.0,22.0,24.0,22.0,20.0, 15.0],
      [0,-0.5,-1.5,-2.0,-3.0,-4.0,-4.0,-3.5, -3.5,-4.0,-4.5,-5.0,-5.0,-5.5,-6.0,-6.5, -7.0,-6.0,-8.0,-9.0,-6.0,-7.0,-4.0,-8.0, -9.0,-10.0,-11.0,-12.0,-18.0,-16.0,-14.0,-12.0, -10.0],
      [0,0.0,6.0,18.5,26.0,32.0,37.5,43.5, 50.5,59.0,69.0,80.5,91.5,98.5,96.5,94.5, 93.5,95.0,90.5,87.5,80.0,78.5,72.5,64.5, 59.0,52.7,44.7,37.5,28.0,20.0,18.0,14.0, 10.0],
      [0,-1.0,-2.0,-2.5,-3.0,-3.5,-4.0,-5.0, -6.0,-7.0,-9.0,-12.0,-15.0,-13.0,-11.0,-13.0, -12.0,-13.0,-14.0,-27.0,-20.0,-20.0,-19.5,-20.0, -21.0,-23.0,-23.5,-24.0,-26.0,-30.0,-28.0,-25.0, -22.0],
      [0,-0.5,-1.0,-2.0,-3.0,-3.5,-4.0,-4.5, -5.0,-6.0,-12.0,-11.0,-10.0,-9.0,-8.0,-7.0, -8.0,-9.5,-11.0,-12.0,-11.0,-10.0,-8.0,-7.0, -6.0,-5.0,-8.0,-15.0,-10.0,-9.0,-10.0,-11.0, -9.0],
      [0,0.5,0.8,1.0,1.5,2.0,2.5,3.0, 3.5,4.0,5.0,5.5,6.0,6.5,7.0,7.5, 8.0,9.0,10.0,11.0,12.0,13.0,14.0,15.0, 16.0,17.0,18.0,19.0,18.0,16.0,12.0,8.0, 5.0],
      [0,0.0,-0.5,-1.0,-1.5,-2.0,-2.5,-3.0, -3.5,-4.0,-5.0,-6.0,-7.0,-8.0,-9.0,-10.0, -11.0,-11.5,-12.0,-12.5,-13.0,-14.0,-15.0,-16.0, -17.0,-18.0,-19.0,-20.0,-24.0,-28.0,-30.0,-42.0, -22.0],
      [0,0.5,0.5,0.0,-0.5,-0.5,-1.0,-1.0, -1.5,-2.0,-2.0,-2.5,-3.0,-3.0,-3.5,-4.0, -4.0,-4.5,-5.0,-5.0,-5.5,-6.0,-6.0,-6.5, -7.0,-8.0,-9.0,-10.0,-12.0,-14.0,-16.0,-12.0, -8.0],
      [0,0.5,1.0,1.0,1.0,1.0,1.5,1.5, 2.0,2.0,2.5,2.5,3.0,3.0,3.5,4.0, 4.5,5.0,5.5,6.0,6.5,7.0,8.0,9.0, 10.0,11.0,12.0,13.0,14.0,16.0,18.0,17.0, 16.0],
      [0,0.5,1.0,1.5,1.5,2.0,2.0,2.5, 3.0,3.5,4.5,5.0,7.0,9.0,10.0,10.5, 21.0,20.5,18.0,16.0,15.0,14.5,15.0,16.0, 18.0,19.0,21.0,23.0,25.0,23.0,22.0,20.0, 15.0],
      [0,0.5,1.0,1.5,2.0,2.5,3.0,3.5, 4.0,4.5,5.0,5.5,6.0,6.5,7.0,7.5, 8.0,8.5,9.0,9.5,10.0,11.0,12.0,13.0, 14.0,16.0,18.0,22.0,25.0,33.5,26.0,20.0, 18.0],
      [0,0.0,-1.0,-2.0,-2.5,-3.0,-3.5,-4.0, -4.5,-5.0,-5.5,-6.0,-6.0,-5.5,-5.0,-5.5, -6.0,-6.5,-7.0,-7.0,-7.5,-8.0,-8.5,-9.0, -9.5,-10.0,-11.0,-12.0,-13.0,-14.0,-15.0,-13.0, -11.0],
      [0,0.0,-0.3,-0.5,-0.8,-1.0,-1.2,-1.5, -1.8,-2.0,-2.5,-3.0,-3.5,-4.0,-4.0,-4.5, -5.0,-5.5,-6.0,-6.5,-7.0,-8.0,-9.0,-10.0, -11.0,-12.0,-13.0,-14.0,-16.0,-18.0,-20.0,-17.0, -15.0],
      [0,0.3,0.5,0.8,1.0,1.2,1.5,1.8, 2.0,2.2,2.5,2.8,3.0,3.2,3.5,3.8, 4.0,4.2,4.5,5.0,5.5,6.0,6.5,7.0, 7.5,8.0,8.5,9.0,10.0,9.0,7.0,5.0, 4.0],
      [0,0.0,0.2,0.3,0.3,0.4,0.5,0.5, 0.6,0.6,0.5,0.4,0.3,0.2,0.2,0.1, 0.0,0.0,-0.5,-1.0,-1.0,-1.5,-2.0,-2.5, -3.0,-3.5,-4.0,-5.0,-6.0,-7.0,-5.0,-3.0, -2.0],
      [0,-0.3,-0.8,-1.2,-1.5,-2.0,-2.5,-2.5, -2.5,-3.0,-3.0,-3.5,-3.5,-4.0,-4.5,-5.0, -5.5,-6.0,-6.0,-6.5,-7.0,-7.5,-8.0,-9.0, -10.0,-11.0,-12.0,-13.0,-20.0,-22.0,-18.0,-15.0, -12.0],
      [0,0.0,-0.5,-1.0,-1.5,-2.0,-2.5,-3.0, -3.5,-4.0,-4.5,-5.0,-5.5,-6.0,-6.5,-7.0, -7.5,-8.0,-8.5,-9.0,-10.0,-11.0,-12.0,-13.0, -14.0,-15.0,-17.0,-20.0,-36.0,-28.0,-26.0,-27.0, -20.0]
    ];

    const velVertical = [
      [0.2,0.0,1.2,0.6,0.2,0.1,0.0,-0.1, -0.15,-0.2,-0.3,-0.35,-0.4,-0.3,-0.35,-0.45, -0.35,-0.3,-0.25,-0.2,-0.1,0.0,0.1,0.2, 0.3,0.35,0.4,0.3,-0.5,0.1,0.3,0.2, 0.0],
      [0.2,2.05,-0.2,-0.3,-0.25,-0.2,-0.15,-0.1, -0.1,-0.05,0.0,0.05,0.1,0.15,0.2,0.25, 0.3,0.3,0.35,0.4,0.45,0.5,0.55,0.6, 0.7,0.8,0.9,0.6,-1.3,1.3,0.5,-2.05, 0.3],
      [0.2,0.0,0.3,0.1,-0.1,-0.2,-0.3,-0.4, -0.5,-0.65,-0.7,-0.72,-0.7,-0.55,-0.5,-0.45, -0.45,-0.45,-0.45,-0.45,-0.4,-0.4,-0.3,-0.2, 0.0,0.2,0.3,0.4,0.0,-0.3,-0.5,-0.7, -0.8],
      [0.2,-0.1,-0.2,-0.7,-0.7,-0.3,-0.2,-0.15, -0.1,0.5,0.45,0.42,0.4,0.35,0.3,0.25, 0.25,0.3,0.3,0.35,0.55,0.45,0.4,0.3, 0.2,0.15,0.0,-0.2,-0.4,-0.5,-0.6,-0.8, -0.9],
      [0.2,0.5,2.0,2.85,2.3,1.98,1.8,1.7, 1.72,1.85,2.3,2.52,2.56,2.35,1.87,1.42, 1.15,0.82,0.48,0.1,-0.33,-0.53,-0.98,-1.3, -1.55,-1.7,-1.8,-1.88,-2.1,-2.47,-2.7,-2.82, -2.74],
      [0.2,-0.1,-0.5,-0.2,-0.35,-0.3,-0.25,-0.3, -0.4,-0.45,-0.5,-0.6,-0.9,-0.5,-0.4,-0.35, -0.4,-0.45,-0.5,-0.9,-0.5,-0.45,-0.4,-0.35, -0.4,-0.5,-0.6,-0.7,-0.8,-0.6,-0.5,-0.4, -0.3],
      [0.2,-1.87,0.5,0.8,0.1,-0.2,-0.3,-0.2, -0.3,-0.5,-0.75,-0.5,-0.3,-0.5,-0.2,-0.4, -0.35,-0.6,-0.4,-0.3,-0.2,-0.1,0.0,0.1, 0.2,0.3,0.4,0.5,0.2,-0.2,0.5,0.6, 1.0],
      [0.2,-0.1,-0.3,-0.1,0.0,-0.05,-0.1,-0.15, -0.1,-0.1,-0.15,-0.2,-0.2,-0.15,-0.2,-0.3, -0.25,-0.2,-0.2,-0.15,-0.1,-0.05,0.0,0.05, 0.1,0.0,-0.2,-0.4,-0.5,-0.3,-0.6,-0.4, -0.5],
      [0.2,-0.2,-0.4,-0.3,-0.2,-0.15,-0.2,-0.25, -0.25,-0.3,-0.35,-0.4,-0.35,-0.3,-0.3,-0.25, -0.2,-0.25,-0.3,-0.3,-0.25,-0.2,-0.15,-0.1, -0.15,-0.2,-0.3,-0.5,-1.1,-0.8,-0.6,-0.5, -0.4],
      [0.2,0.05,0.5,0.2,0.1,0.1,0.15,0.65, 0.35,0.3,0.35,0.3,0.25,0.3,0.35,0.3, 0.25,0.3,0.35,0.4,0.45,0.5,0.6,0.7, 0.85,1.0,0.95,0.9,0.8,0.7,0.6,0.5, 0.4],
      [0.2,0.0,-0.1,0.0,0.05,0.0,0.05,0.0, -0.05,0.0,-0.05,-0.1,-0.05,-0.1,-0.15,-0.1, -0.15,-0.2,-0.15,-0.1,-0.1,-0.05,0.0,0.05, 0.0,-0.1,-0.2,-0.3,-0.4,-0.3,-0.2,-0.3, -0.3],
      [0.2,-0.5,-1.3,0.5,0.3,0.2,0.15,0.1, 0.15,0.2,0.25,0.3,0.35,0.45,0.6,0.62, 0.85,0.85,0.6,0.5,0.45,0.5,0.55,0.6, 0.65,0.7,0.75,0.6,-1.55,-0.8,-0.9,-0.95, -1.35],
      [0.2,0.0,0.2,0.1,0.05,0.1,0.15,0.2, 0.25,0.2,0.15,0.1,0.15,0.1,0.15,0.2, 0.15,0.1,0.1,0.15,0.2,0.25,0.3,0.4, 0.6,0.8,0.95,0.9,0.8,1.05,0.7,0.2, 0.0],
      [0.2,0.0,0.6,0.0,-0.1,-0.15,-0.25,-0.2, -0.25,-0.3,-0.45,-0.35,-0.25,-0.3,-0.4,-0.3, -0.2,-0.15,-0.1,-0.05,0.0,0.05,0.1,0.2, 0.3,0.4,0.5,0.3,-0.3,-1.2,0.0,0.7, 0.9]
    ];

    const attYaw = [
      [0,0.05,0.08,0.1,0.12,0.14,0.16,0.18, 0.2,0.22,0.24,0.26,0.28,0.3,0.32,0.34, 0.36,0.38,0.4,0.42,0.44,0.46,0.48,0.5, 0.45,0.35,0.3,0.45,0.2,0.3,0.1,-0.97, 0.81],
      [0,0.15,-0.05,0.0,0.02,0.04,0.06,0.08, 0.1,0.12,0.14,0.16,0.18,0.2,0.22,0.24, 0.26,0.28,0.3,0.32,0.34,0.36,0.38,0.4, 0.42,0.45,0.44,0.4,0.48,0.5,0.42,0.35, 0.5],
      [0,0.03,0.05,0.07,0.09,0.11,0.14,0.17, 0.2,0.23,0.26,0.29,0.32,0.35,0.37,0.4, 0.42,0.45,0.48,0.51,0.54,0.57,0.6,0.6, 0.55,0.5,0.68,0.35,0.3,0.2,-0.4,-0.7, -0.55],
      [0,0.08,0.1,0.08,0.06,0.05,0.04,0.02, 0.0,-0.02,-0.05,-0.08,-0.1,-0.12,-0.1,-0.12, -0.15,-0.18,-0.2,-0.22,-0.24,-0.27,-0.3,-0.32, -0.35,-0.38,-0.35,-0.3,-0.25,-0.2,-0.35,-0.4, -0.3],
      [0,0.02,-0.25,-0.15,-0.12,-0.1,-0.12,-0.15, -0.18,-0.2,-0.22,-0.25,-0.28,-0.3,-0.32,-0.35, -0.38,-0.4,-0.42,-0.45,-0.48,-0.5,-0.52,-0.55, -0.55,-0.5,-0.48,-0.45,-0.4,-0.5,-1.1,-1.23, 0.55],
      [0,0.0,-0.05,-0.08,-0.1,-0.15,-0.18,-0.2, -0.22,-0.25,-0.4,-0.25,-0.28,-0.3,-0.3,-0.32, -0.33,-0.34,-0.35,-0.36,-0.38,-0.4,-0.42,-0.45, -0.45,-0.42,-0.4,-0.45,-0.5,-0.6,-0.5,-1.87, -0.6],
      [0,0.05,0.08,0.1,0.1,0.12,0.12,0.1, 0.08,0.05,0.03,0.0,-0.02,-0.05,-0.08,-0.1, -0.12,-0.12,-0.1,-0.08,-0.06,-0.05,-0.08,-0.1, -0.15,-0.2,-0.25,-0.4,-0.6,-0.45,-0.5,-0.3, -0.2],
      [0,-0.02,-0.05,-0.08,-0.1,-0.12,-0.14,-0.16, -0.18,-0.2,-0.22,-0.25,-0.28,-0.3,-0.33,-0.36, -0.4,-0.42,-0.45,-0.48,-0.5,-0.52,-0.55,-0.57, -0.58,-0.56,-0.5,-0.45,-0.42,-0.4,-0.45,-0.5, -0.35],
      [0,-0.05,-0.08,-0.06,-0.05,-0.05,-0.06,-0.06, -0.07,-0.08,-0.08,-0.09,-0.1,-0.1,-0.11,-0.12, -0.12,-0.13,-0.13,-0.14,-0.15,-0.15,-0.16,-0.16, -0.17,-0.18,-0.2,-0.15,-0.3,-0.25,-0.2,-0.1, 0.1],
      [0,0.02,0.03,0.04,0.05,0.06,0.07,0.08, 0.09,0.1,0.11,0.12,0.13,0.14,0.15,0.16, 0.17,0.18,0.19,0.2,0.21,0.22,0.23,0.24, 0.26,0.28,0.25,0.2,0.1,0.0,-0.1,0.3, 0.2],
      [0,0.02,0.02,0.03,0.03,0.04,0.04,0.05, 0.05,0.06,0.07,0.07,0.08,0.08,0.09,0.1, 0.11,0.12,0.13,0.15,0.25,0.15,0.1,0.05, 0.02,0.0,-0.05,-0.1,-0.05,0.0,0.1,0.2, 0.1],
      [0,0.03,0.04,0.06,0.08,0.1,0.12,0.14, 0.16,0.18,0.2,0.22,0.24,0.27,0.3,0.33, 0.36,0.39,0.42,0.45,0.48,0.51,0.54,0.56, 0.55,0.52,0.45,0.4,0.35,0.4,0.5,0.6, 0.55],
      [0,0.03,0.06,0.08,0.1,0.12,0.13,0.14, 0.15,0.16,0.17,0.18,0.19,0.2,0.22,0.24, 0.25,0.27,0.29,0.31,0.33,0.35,0.37,0.39, 0.4,0.42,0.4,0.3,0.25,0.35,0.55,0.55, 0.55],
      [0,-0.03,-0.05,-0.06,-0.07,-0.08,-0.08,-0.09, -0.1,-0.1,-0.11,-0.12,-0.12,-0.13,-0.14,-0.15, -0.16,-0.17,-0.18,-0.2,-0.22,-0.24,-0.26,-0.28, -0.3,-0.25,-0.2,-0.15,-0.45,-0.3,-0.35,-0.4, -0.2],
      [0,0.02,0.04,0.06,0.08,0.1,0.12,0.14, 0.16,0.18,0.2,0.22,0.24,0.26,0.28,0.3, 0.32,0.34,0.36,0.38,0.4,0.42,0.44,0.45, 0.45,0.42,0.38,0.35,0.3,0.25,0.3,0.1, 0.2],
      [0,-0.02,-0.03,-0.04,-0.05,-0.06,-0.07,-0.08, -0.09,-0.1,-0.11,-0.12,-0.13,-0.14,-0.15,-0.16, -0.17,-0.18,-0.19,-0.2,-0.21,-0.22,-0.23,-0.24, -0.25,-0.26,-0.28,-0.3,-0.25,-0.35,-0.3,-0.25, -0.15],
      [0,0.01,0.02,0.03,0.04,0.05,0.06,0.07, 0.08,0.09,0.1,0.11,0.12,0.13,0.14,0.15, 0.16,0.17,0.18,0.19,0.2,0.21,0.22,0.23, 0.24,0.25,0.22,0.15,0.1,0.05,-0.05,-0.15, -0.1],
      [0,-0.01,-0.02,-0.03,-0.04,-0.05,-0.05,-0.06, -0.06,-0.07,-0.07,-0.08,-0.08,-0.09,-0.1,-0.1, -0.11,-0.12,-0.13,-0.14,-0.15,-0.17,-0.19,-0.21, -0.23,-0.2,-0.25,-0.2,-0.3,-0.15,-0.25,-0.3, -0.2]
    ];

    // tick labels per panel
    const posLongTicks = [0, 10, 20];
    const velLongTicks = [0, 2, 4];
    const rollTicks = [-1, 0, 1, 2];
    const posLatTicks = [-40, -20, 0, 20];
    const velLatTicks = [-4, -2, 0, 2];
    const pitchTicks = [-0.5, 0, 0.5];
    const posVertTicks = [0, 50, 100];
    const velVertTicks = [-2, 0, 2];
    const yawTicks = [-2, -1, 0];

    const colorOrder = ["#0072BD", "#F25A12", "#F5B012", "#8A2C98", "#5BAE1E", "#1CBCEE", "#BA1232"];

    const panels = [
      { series: posLongitudinal, ticks: posLongTicks, domain: [-5.54, 28.65], minor: 2,
        box: [197, 83, 1037, 468], label: ["Longitudinal (m)"], labelX: 98, title: "MLP - Position Errors" },
      { series: velLongitudinal, ticks: velLongTicks, domain: [-0.64, 4], minor: 0.5,
        box: [1424, 83, 2264, 468], label: ["Longitudinal (m/s)"], labelX: 1354, title: "MLP - Velocity Errors" },
      { series: attRoll, ticks: rollTicks, domain: [-1.054, 2.277], minor: 0.2,
        box: [2648, 83, 3488, 456], label: ["Roll (", "o", ")"], labelX: 2561, title: "MLP - Attitude Errors" },
      { series: posLateral, ticks: posLatTicks, domain: [-40, 20], minor: 5,
        box: [197, 608, 1037, 985], label: ["Lateral (m)"], labelX: 78 },
      { series: velLateral, ticks: velLatTicks, domain: [-4, 2], minor: 0.5,
        box: [1424, 608, 2264, 990], label: ["Lateral (m/s)"], labelX: 1277 },
      { series: attPitch, ticks: pitchTicks, domain: [-0.5, 0.5], minor: 0.1,
        box: [2648, 608, 3488, 994], label: ["Pitch (", "o", ")"], labelX: 2515 },
      { series: posVertical, ticks: posVertTicks, domain: [-41.9, 100], minor: 10,
        box: [197, 1133, 1037, 1501], label: ["Vertical (m)"], labelX: 65, xlabel: true },
      { series: velVertical, ticks: velVertTicks, domain: [-2.81, 2.84], minor: 0.5,
        box: [1424, 1133, 2264, 1501], label: ["Vertical (m/s)"], labelX: 1288, xlabel: true },
      { series: attYaw, ticks: yawTicks, domain: [-2, 0.806], minor: 0.2,
        box: [2648, 1133, 3488, 1502], label: ["Yaw (", "o", ")"], labelX: 2565, xlabel: true }
    ];

    const FONT = "'Liberation Sans', Arial, Helvetica, sans-serif";
    const INK = "#262626";
    const fmt = d3.format("");

    function minorSteps(lo, hi, step) {
      const out = [];
      const start = Math.ceil(lo / step - 1e-9);
      const end = Math.floor(hi / step + 1e-9);
      for (let k = start; k <= end; k++) out.push(+(k * step).toFixed(6));
      return out;
    }

    function drawPanel(svg, p, idx) {
      const [x0, y0, x1, y1] = p.box;
      const x = d3.scaleLinear().domain([0, 150]).range([x0, x1]);
      const y = d3.scaleLinear().domain(p.domain).range([y1, y0]);
      const g = svg.append("g");

      // minor grid (dotted)
      const xMinor = minorSteps(0, 150, 10).filter((v) => !timeTicks.includes(v));
      const yMinor = minorSteps(p.domain[0], p.domain[1], p.minor)
        .filter((v) => !p.ticks.some((t) => Math.abs(t - v) < 1e-6));
      const minor = g.append("g").attr("stroke", "#c4c4c4").attr("stroke-width", 1.4)
        .attr("stroke-dasharray", "2 3");
      minor.selectAll(".vx").data(xMinor).join("line")
        .attr("x1", (d) => x(d)).attr("x2", (d) => x(d)).attr("y1", y0).attr("y2", y1);
      minor.selectAll(".hy").data(yMinor).join("line")
        .attr("y1", (d) => y(d)).attr("y2", (d) => y(d)).attr("x1", x0).attr("x2", x1);

      // major grid
      const major = g.append("g").attr("stroke", "#e2e2e2").attr("stroke-width", 2.2);
      major.selectAll(".gx").data(timeTicks).join("line")
        .attr("x1", (d) => x(d)).attr("x2", (d) => x(d)).attr("y1", y0).attr("y2", y1);
      major.selectAll(".gy").data(p.ticks.filter((t) => t >= p.domain[0] && t <= p.domain[1])).join("line")
        .attr("y1", (d) => y(d)).attr("y2", (d) => y(d)).attr("x1", x0).attr("x2", x1);

      // runs
      const clipId = "clip" + idx;
      g.append("clipPath").attr("id", clipId).append("rect")
        .attr("x", x0).attr("y", y0 - 3).attr("width", x1 - x0).attr("height", y1 - y0 + 6);
      const line = d3.line()
        .defined((d, i) => d !== undefined && i < flightTime.length)
        .x((d, i) => x(flightTime[i]))
        .y((d) => y(d));
      g.append("g").attr("clip-path", `url(#${clipId})`)
        .selectAll("path").data(p.series).join("path")
        .attr("d", line)
        .attr("fill", "none")
        .attr("stroke", (d, i) => colorOrder[i % colorOrder.length])
        .attr("stroke-width", 5)
        .attr("stroke-linejoin", "round");

      // axes (box off, ticks pointing inward)
      const xAxis = d3.axisBottom(x).tickValues(timeTicks).tickSize(-9).tickPadding(0).tickFormat(fmt);
      const gx = g.append("g").attr("transform", `translate(0,${y1})`).call(xAxis);
      gx.select(".domain").attr("stroke", INK).attr("stroke-width", 2.5).attr("d", `M${x0},0H${x1}`);
      gx.selectAll(".tick line").attr("stroke", INK).attr("stroke-width", 2);
      gx.selectAll(".tick text").attr("fill", INK).attr("font-family", FONT).attr("font-size", 52)
        .attr("dy", null).attr("y", 72);

      const yAxis = d3.axisLeft(y).tickValues(p.ticks).tickSize(-9).tickPadding(0).tickFormat(fmt);
      const gy = g.append("g").attr("transform", `translate(${x0},0)`).call(yAxis);
      gy.select(".domain").attr("stroke", INK).attr("stroke-width", 2.5).attr("d", `M0,${y0}V${y1}`);
      gy.selectAll(".tick line").attr("stroke", INK).attr("stroke-width", 2);
      gy.selectAll(".tick text").attr("fill", INK).attr("font-family", FONT).attr("font-size", 52)
        .attr("x", -16).attr("dy", "0.36em");

      // y label
      const cy = (y0 + y1) / 2;
      const lab = g.append("text")
        .attr("transform", `translate(${p.labelX},${cy}) rotate(-90)`)
        .attr("text-anchor", "middle").attr("font-family", FONT).attr("font-size", 62)
        .attr("fill", INK);
      lab.append("tspan").text(p.label[0]);
      if (p.label.length > 1) {
        lab.append("tspan").attr("font-size", 40).attr("dy", -24).text(p.label[1]);
        lab.append("tspan").attr("dy", 24).text(p.label[2]);
      }

      if (p.title) {
        g.append("text").attr("x", (x0 + x1) / 2).attr("y", 68)
          .attr("text-anchor", "middle").attr("font-family", FONT).attr("font-weight", "bold")
          .attr("font-size", 62).attr("fill", "#000").text(p.title);
      }
      if (p.xlabel) {
        g.append("text").attr("x", (x0 + x1) / 2).attr("y", 1652)
          .attr("text-anchor", "middle").attr("font-family", FONT).attr("font-size", 62)
          .attr("fill", INK).text("Flight Time (s)");
      }
    }

    function draw() {
      const svg = d3.select("svg#viz");
      svg.append("rect").attr("width", 3546).attr("height", 1677).attr("fill", "#fff");
      panels.forEach((p, i) => drawPanel(svg, p, i));
    }

    draw();
  </script>
  <style>
    body {
      margin: 0px;
      background: #fff;
    }
    svg {
      display: block;
    }
  </style>
</html>
